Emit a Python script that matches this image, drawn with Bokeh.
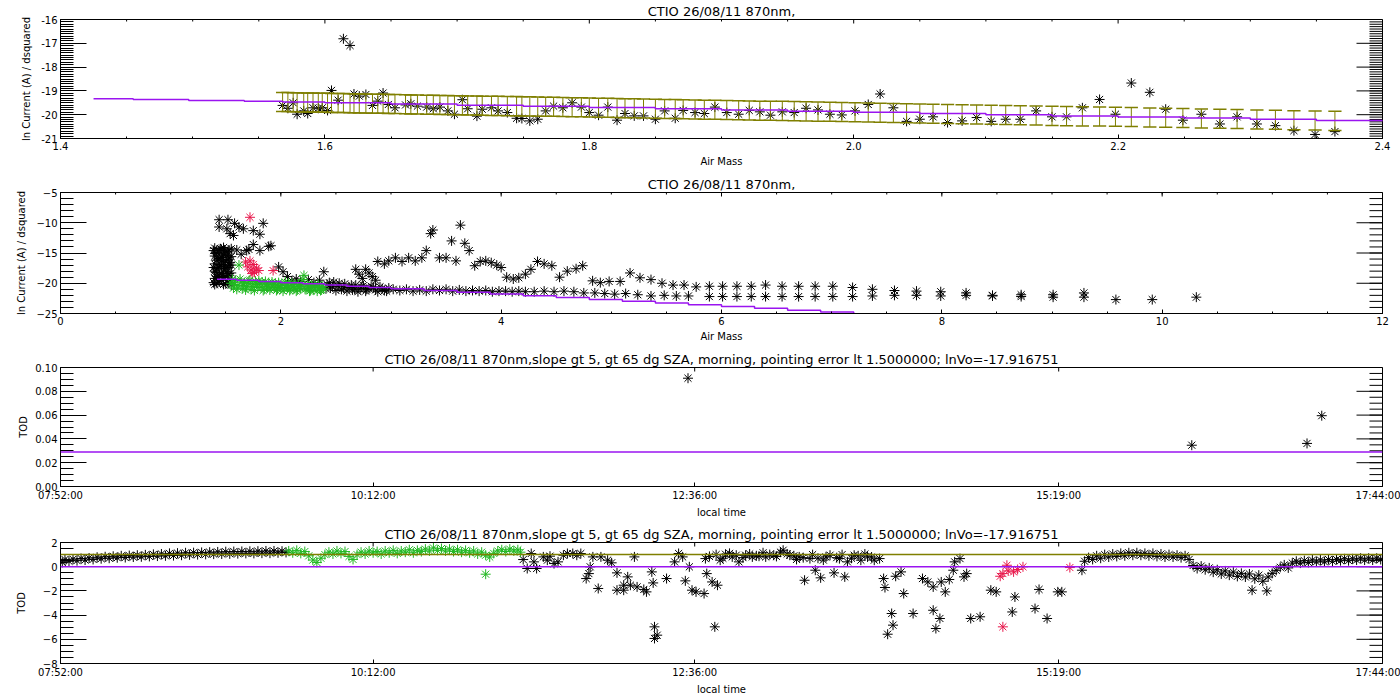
import math
from bokeh.plotting import figure
from bokeh.layouts import column
from bokeh.models import FixedTicker, Range1d, Span, PrintfTickFormatter
from bokeh.embed import file_html
from bokeh.resources import INLINE

FONT = "DejaVu Sans"
PURPLE = "#9a14f0"
OLIVE = "#7f7f00"
RED = "#e8174b"
GREEN = "#22b822"

TITLE_A = "CTIO 26/08/11 870nm,"
TITLE_B = "CTIO 26/08/11 870nm,slope gt 5, gt 65 dg SZA, morning, pointing error lt 1.5000000; lnVo=-17.916751"

# ---------------- panel 1 : ln current vs air mass (zoom) ----------------
p1_m = [1.568,1.572,1.576,1.579,1.584,1.587,1.591,1.595,1.598,1.602,
        1.605,1.610,1.614,1.619,1.622,1.626,1.631,1.636,1.640,1.644,
        1.648,1.653,1.661,1.665,1.670,1.677,1.682,1.687,1.693,1.698,
        1.704,1.708,1.715,1.719,1.726,1.731,1.738,1.745,1.749,1.755,
        1.761,1.767,1.773,1.780,1.787,1.794,1.800,1.807,1.814,1.821,
        1.827,1.834,1.841,1.850,1.857,1.865,1.871,1.880,1.887,1.895,
        1.904,1.913,1.921,1.929,1.937,1.946,1.955,1.964,1.973,1.982,
        1.991,2.001,2.011,2.020,2.030,2.040,2.050,2.060,2.071,2.082,
        2.093,2.104,2.115,2.126,2.138,2.150,2.161,2.173,2.186,2.198,
        2.210,2.224,2.236,2.249,2.263,2.277,2.290,2.305,2.319,2.333,
        2.349,2.364]
p1_y = [-19.61,-19.73,-19.50,-19.98,-19.84,-19.95,-19.71,-19.73,-19.71,-19.82,
        -18.98,-19.39,-16.81,-17.09,-19.13,-19.22,-19.15,-19.61,-19.43,-19.09,
        -19.57,-19.71,-19.59,-19.54,-19.64,-19.68,-19.75,-19.68,-19.84,-19.98,
        -19.37,-19.75,-20.06,-19.77,-19.71,-19.84,-19.91,-20.15,-20.16,-20.26,
        -20.19,-19.84,-19.64,-19.71,-19.50,-19.68,-19.91,-20.02,-19.68,-20.23,
        -19.95,-20.05,-20.05,-20.19,-19.84,-20.15,-19.82,-19.91,-19.95,-19.68,
        -19.91,-19.98,-19.82,-19.88,-20.02,-19.88,-19.91,-19.73,-19.80,-19.98,
        -20.01,-19.84,-19.57,-19.13,-19.71,-20.28,-20.19,-20.09,-20.33,-20.26,
        -20.12,-20.28,-20.19,-20.19,-19.84,-20.09,-20.09,-19.71,-19.36,-19.98,
        -18.67,-19.06,-19.77,-20.23,-19.98,-20.39,-20.09,-20.39,-20.46,-20.67,
        -20.83,-20.71]
p1_fit = [-19.47,-19.47,-19.48,-19.48,-19.49,-19.49,-19.49,-19.50,-19.50,-19.50,
          -19.51,-19.51,-19.51,-19.52,-19.52,-19.53,-19.53,-19.54,-19.54,-19.54,
          -19.55,-19.55,-19.56,-19.57,-19.57,-19.58,-19.58,-19.59,-19.59,-19.60,
          -19.60,-19.61,-19.61,-19.62,-19.63,-19.63,-19.64,-19.64,-19.65,-19.65,
          -19.66,-19.67,-19.67,-19.68,-19.69,-19.69,-19.70,-19.71,-19.71,-19.72,
          -19.73,-19.73,-19.74,-19.75,-19.76,-19.76,-19.77,-19.78,-19.79,-19.79,
          -19.80,-19.81,-19.82,-19.83,-19.83,-19.84,-19.85,-19.86,-19.87,-19.88,
          -19.89,-19.90,-19.91,-19.92,-19.93,-19.94,-19.95,-19.96,-19.97,-19.98,
          -19.99,-20.00,-20.01,-20.02,-20.03,-20.05,-20.06,-20.07,-20.08,-20.09,
          -20.10,-20.12,-20.13,-20.14,-20.16,-20.17,-20.18,-20.20,-20.21,-20.23,
          -20.24,-20.26]
p1_err = 0.40
p1_cap = 0.005
p1_line_m = [1.425,1.455,1.497,1.539,1.568,1.60,1.65,1.70,1.75,1.80,1.85,
             1.90,1.95,2.00,2.05,2.10,2.15,2.20,2.25,2.30,2.35,2.40]
p1_line_y = [-19.33,-19.36,-19.40,-19.44,-19.47,-19.50,-19.55,-19.60,-19.65,-19.70,-19.75,
             -19.80,-19.85,-19.90,-19.95,-20.00,-20.05,-20.10,-20.14,-20.19,-20.24,-20.29]
p1_xticks = [1.4, 1.6, 1.8, 2.0, 2.2, 2.4]
p1_xminor = [1.45, 1.5, 1.55, 1.65, 1.7, 1.75, 1.85, 1.9, 1.95, 2.05, 2.1, 2.15, 2.25, 2.3, 2.35]
p1_yticks = [-21, -20, -19, -18, -17, -16]
p1_yminor = [round(-21 + 0.1 * i, 1) for i in range(51)]

# ---------------- panel 2 : ln current vs air mass (all) ----------------
p2_blk_m = [1.40,1.40,1.40,1.40,1.40,1.40,1.44,1.44,1.44,1.44,
            1.44,1.48,1.48,1.48,1.48,1.48,1.48,1.52,1.52,1.52,
            1.52,1.52,1.55,1.55,1.55,1.55,1.55,1.55,
            1.42,1.42,1.42,1.42,1.42,1.46,1.46,1.46,1.46,1.46,
            1.50,1.50,1.50,1.50,1.50,1.53,1.53,1.53,1.53,1.53,
            1.39,1.39,1.39,1.41,1.41,1.43,1.43,1.45,1.45,1.47,
            1.47,1.49,1.49,1.51,1.51,1.54,
            1.44,1.44,1.52,1.51,1.54,1.57,1.58,1.62,1.66,1.69,
            1.71,1.75,1.75,1.81,1.81,1.84,1.89,1.91,1.60,1.64,
            1.98,2.02,2.06,2.10,2.14,2.18,2.25,2.30,2.35,2.39,
            2.42,2.45,2.48,2.52,2.55,2.58,2.62,2.65,2.68,2.72,
            2.75,2.78,2.82,2.86,2.90,2.94,2.98,2.68,2.71,2.74,
            2.77,2.80,2.83,2.86,
            2.41,2.44,2.47,2.50,2.53,2.57,2.60,2.64,2.67,2.70,
            2.73,2.77,2.80,2.84,2.88,2.92,2.96]
p2_blk_y = [-14.2,-15.5,-16.8,-18.0,-19.2,-20.2,-14.6,-15.9,-17.3,-18.6,
            -19.8,-14.1,-15.3,-16.5,-17.8,-19.0,-20.2,-14.8,-16.1,-17.4,
            -18.7,-19.9,-14.3,-15.6,-17.0,-18.3,-19.6,-20.3,
            -14.9,-16.2,-17.6,-18.9,-20.0,-14.4,-15.7,-17.1,-18.3,-19.5,
            -14.8,-16.3,-17.5,-18.9,-20.1,-14.5,-15.8,-17.0,-18.4,-19.4,
            -14.6,-17.4,-19.9,-15.1,-18.2,-16.0,-19.0,-14.3,-16.9,-15.7,
            -18.8,-14.5,-17.2,-15.4,-18.1,-16.6,
            -9.5,-10.7,-9.5,-11.0,-11.8,-12.1,-10.1,-10.7,-11.0,-14.6,
            -14.4,-11.3,-13.6,-11.9,-14.6,-10.1,-13.9,-13.8,-14.5,-15.2,
            -17.3,-18.1,-18.9,-19.6,-19.3,-19.7,-19.4,-19.9,-19.5,-18.1,
            -20.2,-20.8,-19.8,-20.5,-21.0,-20.1,-20.7,-21.1,-20.3,-20.9,
            -20.4,-21.0,-20.5,-21.1,-20.6,-21.2,-20.8,-17.7,-18.5,-19.2,
            -17.7,-18.3,-18.9,-19.5,
            -20.9,-19.9,-20.6,-21.2,-20.0,-20.8,-21.3,-20.3,-21.0,-21.4,
            -20.6,-21.3,-20.9,-20.7,-21.4,-20.9,-21.3]
p2_up_m = [2.88,2.94,2.98,3.04,3.10,3.16,3.22,3.28,3.32,3.36,
           3.38,3.44,3.50,3.55,3.59,3.63,3.67,3.71,3.76,3.81,
           3.86,3.91,3.96,4.00,4.05,4.11,4.16,4.22,4.27,4.33,
           4.39,4.46,4.53,4.60,4.68,4.74,4.83,4.90,4.98,5.08,
           5.17,5.26,5.36,5.46,5.56,5.66,5.77,
           5.89,6.01,6.14,6.27,6.40,6.55,6.70,6.85,7.01,7.19,
           7.37,7.57,7.77,7.99,8.22,8.46,8.72,9.01,9.29]
p2_up_y = [-16.4,-16.8,-16.3,-15.8,-16.4,-15.8,-16.3,-15.8,-14.6,-11.8,
           -11.2,-15.8,-15.8,-13.0,-16.3,-10.4,-13.4,-14.6,-17.1,-16.4,
           -16.3,-16.6,-17.0,-17.4,-19.0,-19.3,-19.1,-18.5,-17.7,-16.4,
           -16.8,-17.1,-19.0,-18.0,-17.6,-17.1,-19.6,-19.9,-19.7,-19.7,
           -18.3,-19.1,-19.4,-20.0,-20.3,-20.3,-20.6,
           -20.5,-20.5,-20.5,-20.5,-20.3,-20.5,-20.5,-20.5,-20.5,-20.7,
           -21.0,-21.2,-21.3,-21.4,-21.6,-22.0,-21.9,-21.9,-21.6]
p2_low_m = [3.02,3.08,3.14,3.20,3.26,3.32,3.38,3.44,3.50,3.56,
            3.62,3.68,3.74,3.80,3.86,3.92,3.98,4.04,4.10,4.16,
            4.22,4.30,4.39,4.48,4.57,4.66,4.75,4.85,4.94,5.03,
            5.13,5.24,5.36,5.48,5.59,5.70,5.89,6.01,6.14,6.27,
            6.40,6.55,6.70,6.85,7.01,7.19,7.37,7.57,7.77,7.99,
            8.22,8.46,8.72,9.01,9.29,9.58,9.91,10.31]
p2_low_y = [-21.0,-21.2,-21.0,-21.3,-21.1,-21.3,-21.0,-21.2,-21.0,-21.3,
            -21.1,-21.3,-21.2,-21.3,-21.2,-21.4,-21.3,-21.3,-21.4,-21.3,
            -21.4,-21.4,-21.3,-21.4,-21.3,-21.4,-21.6,-21.6,-21.7,-21.8,
            -21.7,-21.9,-22.1,-22.0,-22.1,-22.1,-22.2,-22.2,-22.2,-22.2,
            -22.2,-22.2,-22.2,-22.2,-22.2,-22.2,-22.1,-22.0,-22.0,-22.1,
            -22.0,-22.1,-22.2,-22.3,-22.3,-22.7,-22.7,-22.3]
p2_red_m = [1.72,1.68,1.70,1.72,1.73,1.75,1.76,1.78,1.80,1.74,1.93]
p2_red_y = [-9.1,-16.5,-17.3,-16.3,-17.8,-16.9,-18.2,-17.5,-17.9,-18.4,-17.9]
p2_grn_m = [1.55,1.57,1.59,1.61,1.62,1.63,1.65,1.67,1.69,1.71,
            1.73,1.75,1.77,1.79,1.81,1.83,1.85,1.87,1.89,1.91,
            1.93,1.95,1.97,1.99,2.01,2.03,2.05,2.07,2.09,2.11,
            2.13,2.15,2.17,2.19,2.21,2.23,2.25,2.27,2.29,2.31,
            2.33,2.35,2.37,2.39,
            1.56,1.58,1.60,1.64,1.66,1.68,1.70,1.72,1.74,1.76,
            1.78,1.80,1.82,1.84,1.86,1.88,1.90,1.92,1.94,1.96,
            1.98,2.00,2.02,2.04,2.06,2.08,2.10,2.12,2.14,2.16,
            2.18,2.20,2.22,2.24,2.26,2.28,2.30,2.32,2.34,2.36,
            2.38]
p2_grn_y = [-20.0,-20.8,-19.5,-20.4,-17.0,-19.3,-20.9,-19.9,-20.6,-19.6,
            -21.0,-20.1,-19.7,-20.7,-20.0,-19.8,-21.0,-20.3,-19.9,-20.8,
            -20.2,-20.0,-21.0,-20.4,-20.1,-20.9,-20.3,-20.0,-21.0,-20.5,
            -20.2,-21.1,-20.6,-20.3,-18.7,-20.9,-20.5,-21.2,-20.7,-20.4,
            -21.3,-20.8,-21.1,-20.9,
            -19.4,-20.2,-21.0,-19.8,-20.3,-21.1,-20.0,-19.5,-20.5,-21.2,
            -20.2,-19.6,-20.6,-21.2,-19.7,-20.6,-21.1,-19.8,-20.7,-21.2,
            -19.9,-20.7,-21.3,-19.8,-20.8,-21.2,-20.0,-20.8,-21.3,-20.1,
            -20.9,-19.4,-21.0,-20.2,-21.3,-20.3,-21.1,-20.6,-20.2,-21.2,
            -20.5]
p2_line_m = [1.42,1.6,1.8,2.0,2.2,2.4,2.6,2.8,3.0,3.3,3.6,3.9,4.2,4.5,4.8,
             5.1,5.4,5.7,6.0,6.3,6.6,6.9,7.2]
p2_line_y = [-19.32,-19.50,-19.70,-19.90,-20.10,-20.29,-20.49,-20.69,-20.89,-21.18,
             -21.48,-21.78,-22.07,-22.37,-22.67,-22.97,-23.26,-23.56,-23.86,-24.15,
             -24.45,-24.75,-25.05]
p2_xticks = [0, 2, 4, 6, 8, 10, 12]
p2_xminor = [0.5 * i for i in range(25)]
p2_yticks = [-25, -20, -15, -10, -5]
p2_yminor = list(range(-25, -4))

# ---------------- panel 3 : TOD vs local time (selected) ----------------
p3_h = [12.55, 16.31, 17.17, 17.28]
p3_y = [0.091, 0.0347, 0.0362, 0.0595]
p3_level = 0.029
p3_yticks = [0.0, 0.02, 0.04, 0.06, 0.08, 0.10]
p3_yminor = [0.005 * i for i in range(21)]

# ---------------- panel 4 : TOD vs local time (all) ----------------
p4_a_h = [7.88,7.90,7.93,7.96,7.99,8.02,8.05,8.08,8.11,8.14,
          8.17,8.20,8.23,8.26,8.29,8.32,8.35,8.38,8.41,8.44,
          8.47,8.50,8.53,8.56,8.59,8.62,8.65,8.68,8.71,8.74,
          8.77,8.80,8.83,8.86,8.89,8.92,8.95,8.98,9.01,9.04,
          9.07,9.10,9.13,9.16,9.19,9.22,9.25,9.28,9.31,9.34,
          9.37,9.40,9.43,9.46,9.49,9.52,9.55]
p4_a_y = [0.35,0.60,0.45,0.62,0.50,0.68,0.55,0.72,0.60,0.78,
          0.66,0.82,0.70,0.86,0.74,0.90,0.76,0.92,0.80,0.95,
          0.82,0.98,0.85,1.02,0.88,1.05,0.90,1.10,0.92,1.12,
          0.95,1.15,0.98,1.16,1.00,1.18,1.02,1.20,1.04,1.22,
          1.05,1.24,1.06,1.25,1.08,1.26,1.10,1.27,1.10,1.28,
          1.12,1.30,1.12,1.30,1.15,1.28,1.18]
p4_g_h = [9.57,9.60,9.63,9.66,9.69,9.72,9.75,9.78,9.81,9.84,
          9.87,9.90,9.93,9.96,9.99,10.02,10.05,10.08,10.11,10.14,
          10.17,10.20,10.23,10.26,10.29,10.32,10.35,10.38,10.41,10.44,
          10.47,10.50,10.53,10.56,10.59,10.62,10.65,10.68,10.71,10.74,
          10.77,10.80,10.83,10.86,10.89,10.92,10.95,10.98,11.01,11.04,
          11.07,11.10,11.13,11.16,11.19,11.22,11.25,11.28,11.30,11.04]
p4_g_y = [1.30,1.15,1.35,1.10,1.25,0.90,0.55,0.35,0.70,1.00,
          1.20,1.05,1.30,1.10,1.25,0.85,0.60,1.00,1.20,1.05,
          1.30,1.15,1.25,1.05,1.30,1.15,1.35,1.10,1.30,1.20,
          1.40,1.15,1.35,1.25,1.45,1.30,1.55,1.35,1.50,1.30,
          1.45,1.25,1.40,1.20,1.35,1.15,1.30,1.05,1.20,0.95,
          0.80,1.10,1.30,1.40,1.25,1.45,1.30,1.40,1.20,-0.62]
p4_s_h = [11.32,11.35,11.38,11.40,11.42,11.47,11.50,11.52,11.55,11.58,
          11.62,11.65,11.69,11.72,11.75,11.79,11.81,11.82,11.84,11.88,
          11.90,11.95,11.98,12.02,12.02,12.07,12.10,12.07,12.12,12.15,
          12.17,12.22,12.24,12.28,12.29,12.30,12.32,12.30,12.39,12.45,
          12.48,12.51,12.53,12.56,12.58,12.61,
          12.68,12.69,12.67,12.73,12.77,12.75,12.79,12.83,12.88,12.93,
          12.98,13.03,13.08,13.13,13.19,13.26,13.31,13.38,13.42,13.46,
          13.50,13.54,13.58,13.64,13.68,13.72,13.74,13.79,13.84,13.89,
          13.94,13.98,14.01,14.02,14.04,14.07,14.08,14.10,14.14,14.16,
          14.23,14.30,14.34,14.38,14.38,14.43,14.40,14.44,14.47,14.50,
          14.53,14.54,14.58,14.61,14.63,14.66,14.73,14.81,14.85,14.99,
          14.97,15.14,15.17,15.23,15.31,15.34,15.49,
          12.71,12.76,12.81,12.86,12.91,12.96,13.01,13.06,13.11,13.16,
          13.21,13.24,13.29,13.34,13.36,13.41,13.48,13.52,13.56,13.61,
          13.66,13.70,13.77,13.82,13.87,13.92]
p4_s_y = [0.59,-0.15,1.09,0.40,-0.15,0.81,0.54,0.87,0.26,0.40,
          0.95,1.09,1.09,0.95,1.09,-0.98,-0.57,-0.01,0.81,-1.80,
          0.81,0.54,0.32,-0.51,-1.94,-1.94,-0.84,-1.53,-1.53,0.81,
          -1.67,-1.88,-2.08,-0.43,-1.34,-4.97,-5.66,-5.93,-0.98,0.40,
          1.09,0.81,-1.17,-0.01,-1.94,-2.08,
          0.67,-0.57,-2.22,-1.26,-1.53,-4.97,0.54,1.03,0.81,0.40,
          0.95,0.81,0.87,0.81,0.95,1.36,0.95,0.81,-1.12,0.67,
          -0.29,-0.92,0.81,-0.51,0.67,-0.84,0.40,0.95,0.54,0.81,
          0.54,0.67,-0.98,-1.72,-5.58,-3.87,-4.83,-0.79,-0.43,-2.22,
          -3.87,-0.98,-1.26,-3.60,-1.67,-4.28,-5.11,-1.26,-2.08,-1.06,
          -0.29,0.40,0.67,-0.84,-0.57,-4.28,-4.14,-1.94,-2.08,-2.50,
          -3.74,-3.46,-1.88,-4.28,-2.08,-2.08,-0.29,
          0.85,1.00,0.70,1.10,0.95,0.75,1.05,0.90,1.15,1.00,
          0.85,1.20,1.05,0.90,0.60,0.75,1.00,0.70,0.55,0.95,
          0.75,1.00,0.70,0.90,1.05,0.80]
p4_b_h = [15.51,15.54,15.57,15.60,15.63,15.66,15.69,15.72,15.75,15.78,
          15.81,15.84,15.87,15.90,15.93,15.96,15.99,16.02,16.05,16.08,
          16.11,16.14,16.17,16.20,16.23,16.26,16.29,16.32,16.35,16.38,
          16.41,16.44,16.47,16.50,16.53,16.56,16.59,16.62,16.65,16.68,
          16.71,16.74,16.76,16.78,16.81,16.84,16.87,16.88,16.91,16.94,
          16.97,17.00,17.03,17.06,17.09,17.12,17.15,17.18,17.21,17.24,
          17.27,17.30,17.33,17.36,17.39,17.42,17.45,17.48,17.51,17.54,
          17.57,17.60,17.63,17.66,17.69,17.72]
p4_b_y = [0.45,0.75,0.60,0.90,0.70,1.00,0.80,1.05,0.85,1.10,
          0.90,1.15,0.95,1.15,0.95,1.10,0.90,1.10,0.85,1.05,
          0.80,1.00,0.80,0.95,0.75,0.90,0.60,0.10,-0.15,0.05,
          -0.25,-0.10,-0.45,-0.25,-0.60,-0.35,-0.70,-0.45,-0.80,-0.55,
          -0.85,-0.60,-1.94,-1.00,-0.70,-1.20,-2.00,-0.85,-0.55,-0.30,
          -0.05,0.15,-0.10,0.30,0.45,0.30,0.50,0.35,0.55,0.40,
          0.55,0.40,0.60,0.45,0.60,0.50,0.65,0.50,0.65,0.55,
          0.70,0.55,0.70,0.55,0.70,0.60]
p4_r_h = [14.93,14.94,14.88,14.90,14.98,15.01,15.05,14.90,15.40]
p4_r_y = [0.12,-0.35,-0.79,-0.57,-0.43,-0.23,-0.01,-4.97,-0.07]
p4_upper = 1.0
p4_lower = 0.0
p4_yticks = [-8, -6, -4, -2, 0, 2]
p4_yminor = [-8 + 0.5 * i for i in range(21)]

# time axis (minutes after midnight)
t_ticks = [472, 612, 756, 919, 1064]
t_labels = ["07:52:00", "10:12:00", "12:36:00", "15:19:00", "17:44:00"]


def mins(hours):
    return [h * 60.0 for h in hours]


def make_fig(height, btop, bbot, xr, yr, title):
    p = figure(width=1400, height=height, x_range=Range1d(*xr), y_range=Range1d(*yr),
               output_backend="svg", toolbar_location=None,
               min_border_left=60, min_border_right=18,
               min_border_top=btop, min_border_bottom=bbot)
    p.xgrid.visible = False
    p.ygrid.visible = False
    p.outline_line_color = "black"
    p.outline_line_width = 1
    p.title.text = title
    p.title.align = "center"
    p.title.text_font = FONT
    p.title.text_font_size = "13px"
    p.title.text_font_style = "normal"
    p.title.text_color = "black"
    p.title.standoff = 2
    return p


def style(ax):
    ax.major_tick_out = 0
    ax.minor_tick_out = 0
    ax.axis_line_color = "black"
    ax.major_tick_line_color = "black"
    ax.minor_tick_line_color = "black"
    ax.major_label_text_font = FONT
    ax.major_label_text_color = "black"
    ax.major_label_text_font_size = "10px"
    ax.major_label_standoff = 3
    ax.axis_label_text_font = FONT
    ax.axis_label_text_font_style = "normal"
    ax.axis_label_text_font_size = "10px"
    ax.axis_label_text_color = "black"


def axes(p, xr, yr, xt, xm, yt, ym, xlabel, ylabel, ylab_off, xfmt=None, yfmt=None, tlabels=None):
    bx = p.xaxis[0]
    ly = p.yaxis[0]
    bx.ticker = FixedTicker(ticks=xt, minor_ticks=xm)
    ly.ticker = FixedTicker(ticks=yt, minor_ticks=ym)
    style(bx)
    style(ly)
    bx.major_tick_in = 4
    bx.minor_tick_in = 2
    ly.major_tick_in = 26
    ly.minor_tick_in = 13
    bx.axis_label = xlabel
    bx.axis_label_standoff = 3
    ly.axis_label = ylabel
    ly.axis_label_standoff = ylab_off
    if xfmt:
        bx.formatter = PrintfTickFormatter(format=xfmt)
    if yfmt:
        ly.formatter = PrintfTickFormatter(format=yfmt)
    if tlabels is not None:
        bx.major_label_overrides = dict(zip(xt, tlabels))
    # mirrored tick marks on the right and top frame edges (no labels)
    p.ray(x=[xr[1]] * len(yt), y=yt, length=26, angle=math.pi, length_units="screen",
          line_color="black", line_width=1)
    p.ray(x=[xr[1]] * len(ym), y=ym, length=13, angle=math.pi, length_units="screen",
          line_color="black", line_width=1)
    p.ray(x=xt, y=[yr[1]] * len(xt), length=4, angle=-math.pi / 2, length_units="screen",
          line_color="black", line_width=1)
    if xm:
        p.ray(x=xm, y=[yr[1]] * len(xm), length=2, angle=-math.pi / 2, length_units="screen",
              line_color="black", line_width=1)


STAR = dict(marker="asterisk", size=10, line_width=1)

# ---- panel 1
X1, Y1 = (1.4, 2.4), (-21, -16)
f1 = make_fig(170, 17, 32, X1, Y1, TITLE_A)
axes(f1, X1, Y1, p1_xticks, p1_xminor, p1_yticks, p1_yminor, "Air Mass",
     "ln Current (A) / dsquared", 6, xfmt="%.1f", yfmt="%d")
f1.scatter(p1_m, p1_y, line_color="black", **STAR)
lo = [v - p1_err for v in p1_fit]
hi = [v + p1_err for v in p1_fit]
f1.segment(p1_m, lo, p1_m, hi, line_color=OLIVE, line_width=1)
f1.segment([m - p1_cap for m in p1_m], lo, [m + p1_cap for m in p1_m], lo, line_color=OLIVE, line_width=1.5)
f1.segment([m - p1_cap for m in p1_m], hi, [m + p1_cap for m in p1_m], hi, line_color=OLIVE, line_width=1.5)
f1.step(p1_line_m, p1_line_y, mode="after", line_color=PURPLE, line_width=1.5)

# ---- panel 2
X2, Y2 = (0, 12), (-25, -5)
f2 = make_fig(175, 22, 32, X2, Y2, TITLE_A)
axes(f2, X2, Y2, p2_xticks, p2_xminor, p2_yticks, p2_yminor, "Air Mass",
     "ln Current (A) / dsquared", 6)
f2.scatter(p2_blk_m, p2_blk_y, line_color="black", **STAR)
f2.scatter(p2_up_m, p2_up_y, line_color="black", **STAR)
f2.scatter(p2_low_m, p2_low_y, line_color="black", **STAR)
f2.scatter(p2_red_m, p2_red_y, line_color=RED, **STAR)
f2.scatter(p2_grn_m, p2_grn_y, line_color=GREEN, **STAR)
f2.step(p2_line_m, p2_line_y, mode="after", line_color=PURPLE, line_width=1.5)

# ---- panel 3
X3, Y3 = (472, 1064), (0, 0.1)
f3 = make_fig(175, 22, 32, X3, Y3, TITLE_B)
axes(f3, X3, Y3, t_ticks, [], p3_yticks, p3_yminor, "local time", "TOD", 3,
     yfmt="%.2f", tlabels=t_labels)
f3.scatter(mins(p3_h), p3_y, line_color="black", **STAR)
f3.add_layout(Span(location=p3_level, dimension="width", line_color=PURPLE, line_width=1.5))

# ---- panel 4
X4, Y4 = (472, 1064), (-8, 2)
f4 = make_fig(180, 22, 37, X4, Y4, TITLE_B)
axes(f4, X4, Y4, t_ticks, [], p4_yticks, p4_yminor, "local time", "TOD", 13, tlabels=t_labels)
f4.scatter(mins(p4_a_h), p4_a_y, line_color="black", **STAR)
f4.scatter(mins(p4_s_h), p4_s_y, line_color="black", **STAR)
f4.scatter(mins(p4_b_h), p4_b_y, line_color="black", **STAR)
f4.scatter(mins(p4_g_h), p4_g_y, line_color=GREEN, **STAR)
f4.scatter(mins(p4_r_h), p4_r_y, line_color=RED, **STAR)
f4.add_layout(Span(location=p4_upper, dimension="width", line_color=OLIVE, line_width=1.5))
f4.add_layout(Span(location=p4_lower, dimension="width", line_color=PURPLE, line_width=1.5))

layout = column(f1, f2, f3, f4, spacing=0)
open("out.html", "w").write(file_html(layout, INLINE))
